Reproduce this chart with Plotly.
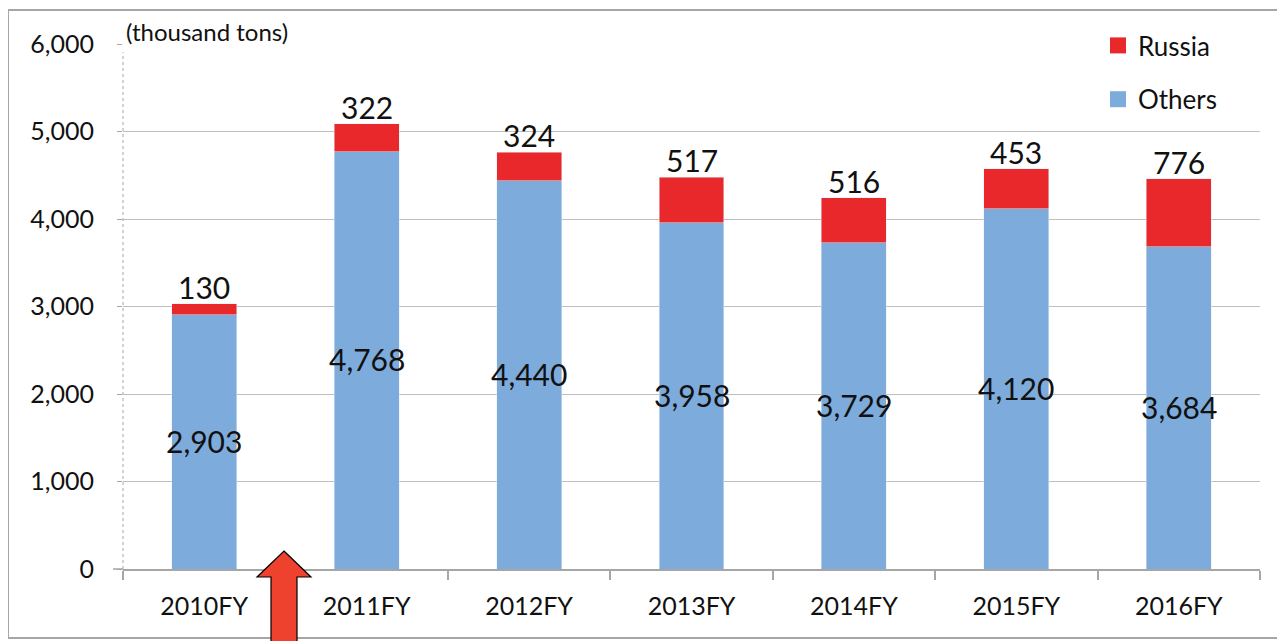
import plotly.graph_objects as go

categories = ["2010FY", "2011FY", "2012FY", "2013FY", "2014FY", "2015FY", "2016FY"]
others = [2903, 4768, 4440, 3958, 3729, 4120, 3684]
russia = [130, 322, 324, 517, 516, 453, 776]
y_ticks = [0, 1000, 2000, 3000, 4000, 5000, 6000]
y_tick_labels = ["0", "1,000", "2,000", "3,000", "4,000", "5,000", "6,000"]

# page body has an 8px margin; figure sized to fit the window
OFF = 8
W, H = 1285 - OFF, 641 - OFF
# plot area in screen pixels: x 123..1260, y 44..569
ML, MT = 123 - OFF, 44 - OFF
MR = W - (1260 - OFF)
MB = H - (569 - OFF)
PW, PH = W - ML - MR, H - MT - MB

def px(x):
    return (x - OFF - ML) / PW

def py(y):
    return (H - MB - (y - OFF)) / PH

FONT = "Lato, Open Sans, sans-serif"
BLUE = "#7dabdc"
RED = "#e8282b"
GRAY = "#a6a6a6"

fig = go.Figure()
fig.add_trace(go.Bar(x=categories, y=others, name="Others", marker_color=BLUE,
                     width=0.4, showlegend=False, hoverinfo="skip"))
fig.add_trace(go.Bar(x=categories, y=russia, name="Russia", marker_color=RED,
                     width=0.4, showlegend=False, hoverinfo="skip"))
# legend entries (square swatches)
fig.add_trace(go.Scatter(x=[None], y=[None], mode="markers", name="Russia",
                         legendgroup="r",
                         marker=dict(symbol="square", size=16, color=RED)))
fig.add_trace(go.Scatter(x=[None], y=[None], mode="markers", name="Others",
                         legendgroup="o",
                         marker=dict(symbol="square", size=16, color=BLUE)))

annotations = []
for c, o, r in zip(categories, others, russia):
    annotations.append(dict(x=c, y=o / 2, text=f"{o:,}", showarrow=False,
                            yshift=1,
                            font=dict(family=FONT, size=30, color="#111"),
                            xref="x", yref="y"))
    annotations.append(dict(x=c, y=o + r, text=f"{r:,}", showarrow=False,
                            yanchor="bottom", yshift=-3,
                            font=dict(family=FONT, size=30, color="#111"),
                            xref="x", yref="y"))
annotations.append(dict(x=px(124), y=py(32), xref="paper", yref="paper",
                        xanchor="left", yanchor="middle", showarrow=False,
                        text="(thousand tons)", bgcolor="white",
                        font=dict(family=FONT, size=24, color="#111")))

shapes = [
    # outer border
    dict(type="rect", xref="paper", yref="paper", x0=px(8), x1=px(1282),
         y0=py(638), y1=py(10), line=dict(color=GRAY, width=2), layer="below"),
    # dotted value axis line
    dict(type="line", xref="paper", yref="paper", x0=0, x1=0, y0=0, y1=py(52),
         line=dict(color=GRAY, width=1, dash="dot")),
    # axis line stub left of value axis
    dict(type="line", xref="paper", yref="paper", x0=px(113), x1=0, y0=0, y1=0,
         line=dict(color=GRAY, width=1.5)),
    # block arrow
    dict(type="path", xref="paper", yref="paper",
         path=(f"M {px(284)} {py(551)} L {px(311)} {py(577)} L {px(297)} {py(577)} "
               f"L {px(297)} {py(660)} L {px(271)} {py(660)} L {px(271)} {py(577)} "
               f"L {px(257)} {py(577)} Z"),
         fillcolor="#ee412e", line=dict(color="black", width=1.2), layer="above"),
]

fig.update_layout(
    width=W, height=H,
    margin=dict(l=ML, r=MR, t=MT, b=MB, autoexpand=False),
    barmode="stack",
    plot_bgcolor="white", paper_bgcolor="white",
    font=dict(family=FONT, color="#111"),
    annotations=annotations,
    shapes=shapes,
    showlegend=True,
    legend=dict(x=px(1098), y=py(22), xanchor="left", yanchor="top",
                bgcolor="white", traceorder="grouped", tracegroupgap=17,
                font=dict(family=FONT, size=26, color="#111"),
                itemwidth=30),
    xaxis=dict(showline=True, linecolor=GRAY, linewidth=1.5, ticks="outside",
               tickson="boundaries", ticklen=9, tickcolor=GRAY, tickwidth=1.5,
               ticklabelstandoff=14,
               tickfont=dict(family=FONT, size=25, color="#111"),
               showgrid=False, range=[-0.5, 6.5], fixedrange=True),
    yaxis=dict(range=[0, 6000], tickvals=y_ticks, ticktext=y_tick_labels,
               showgrid=True, gridcolor="#bfbfbf", gridwidth=1,
               zeroline=False, showline=False, ticks="outside", ticklen=5,
               ticklabelstandoff=18,
               tickcolor=GRAY, tickfont=dict(family=FONT, size=25, color="#111"),
               fixedrange=True),
)

fig.write_html("out.html")
